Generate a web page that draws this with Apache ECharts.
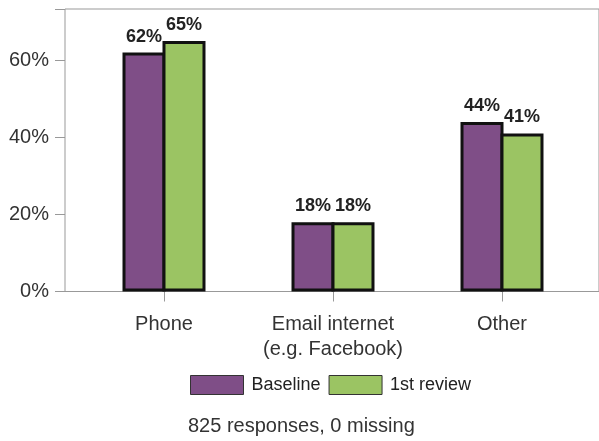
<!DOCTYPE html>
<html>
<head>
<meta charset="utf-8">
<script src="https://cdn.jsdelivr.net/npm/echarts@6/dist/echarts.min.js"></script>
<style>
html,body{margin:0;padding:0;background:#fff;}
#chart{width:599px;height:441px;}
</style>
</head>
<body>
<div id="chart"></div>
<script>
var categories = ['Phone', 'Email internet\n(e.g. Facebook)', 'Other'];
var seriesNames = ['Baseline', '1st review'];
var baselineValues = [62, 18, 44];
var reviewValues = [65, 18, 41];
var yTicks = [0, 20, 40, 60];
var footerText = '825 responses, 0 missing';

var FONT = 'Liberation Sans, Arial, sans-serif';
var chart = echarts.init(document.getElementById('chart'), null, {renderer: 'canvas'});

function barSeries(name, data, color) {
  return {
    name: name,
    type: 'bar',
    xAxisIndex: 0,
    yAxisIndex: 0,
    data: data,
    barWidth: 43,
    barGap: '-7%',
    itemStyle: {color: color, borderColor: '#111', borderWidth: 3},
    label: {
      show: true, position: 'top', distance: 7,
      formatter: '{c}%',
      fontFamily: FONT, fontWeight: 'bold', fontSize: 18, color: '#222'
    },
    emphasis: {disabled: true}
  };
}

chart.setOption({
  animation: false,
  backgroundColor: '#fff',
  title: {
    text: footerText,
    left: 188, top: 416, padding: 0,
    textStyle: {fontFamily: FONT, fontSize: 20, fontWeight: 'normal', color: '#333'}
  },
  legend: {
    data: seriesNames,
    left: 190, top: 375, padding: 0,
    itemWidth: 53, itemHeight: 19, itemGap: 8,
    icon: 'rect',
    itemStyle: {borderColor: '#333', borderWidth: 1},
    textStyle: {fontFamily: FONT, fontSize: 18, color: '#222', padding: [0, 0, 0, 3]}
  },
  grid: [
    {left: 79.5, right: 12.5, top: 9, bottom: 149.5},
    {left: 65, right: -5, top: 9, bottom: 149.5, show: true, borderColor: '#999', borderWidth: 1, backgroundColor: 'transparent'}
  ],
  xAxis: [
    {
      type: 'category', gridIndex: 0, data: categories,
      axisLine: {show: false},
      axisTick: {show: true, alignWithLabel: true, length: 10, lineStyle: {color: '#999'}},
      axisLabel: {interval: 0, fontFamily: FONT, fontSize: 20, color: '#333', margin: 20, lineHeight: 25}
    },
    {type: 'value', gridIndex: 1, show: false, min: 0, max: 1}
  ],
  yAxis: [
    {type: 'value', gridIndex: 0, min: 0, max: 73.3, show: false},
    {
      type: 'value', gridIndex: 1, min: 0, max: 73.3, interval: 20,
      axisLine: {show: false},
      axisTick: {show: true, length: 10, lineStyle: {color: '#999'}},
      splitLine: {show: false},
      axisLabel: {
        fontFamily: FONT, fontSize: 20, color: '#333', margin: 16,
        formatter: function (v) { return yTicks.indexOf(v) >= 0 ? v + '%' : ''; }
      }
    }
  ],
  series: [
    barSeries(seriesNames[0], baselineValues, '#7F4E87'),
    barSeries(seriesNames[1], reviewValues, '#9BC463')
  ]
});
</script>
</body>
</html>
